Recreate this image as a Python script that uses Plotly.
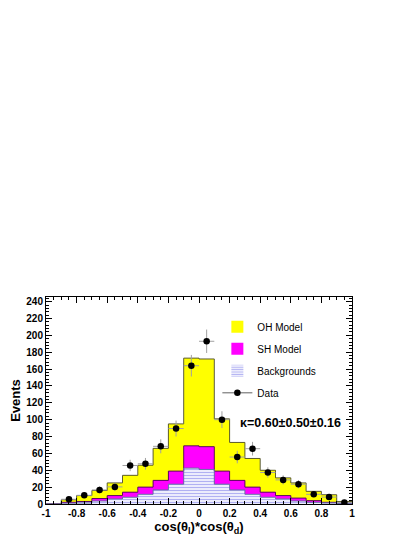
import numpy as np
import plotly.graph_objects as go

# ---- data (20 bins of width 0.1 from -1 to 1) ----
bin_edges = [round(-1 + 0.1 * i, 2) for i in range(21)]
bin_centers = [round(-0.95 + 0.1 * i, 2) for i in range(20)]

# visible (stacked) heights of each histogram
oh_model = [0, 5, 10, 16, 25, 34, 46, 66, 95, 173, 172, 101, 73, 54, 40, 31, 25, 15, 11, 3]
sh_model = [0, 2, 3, 6.5, 10, 14, 20, 28, 39, 69, 68, 39, 28, 20, 14, 10, 7, 4, 2, 1]
backgrounds = [0, 1, 1.2, 3.6, 6, 8, 11.5, 16.7, 23.5, 42.6, 41, 23.5, 16.7, 11.5, 8, 6, 3.6, 2, 1.2, 0.5]
data_counts = [None, 5.6, 10.3, 16.7, 20.3, 45.7, 47.7, 68.4, 89.5, 164, 193, 100, 55.7, 65.6, 37.4, 28.6, 23.5, 11.5, 8.2, 1.8]

x_tickvals = [-1, -0.8, -0.6, -0.4, -0.2, 0, 0.2, 0.4, 0.6, 0.8, 1]
x_ticktext = ["-1", "-0.8", "-0.6", "-0.4", "-0.2", "0", "0.2", "0.4", "0.6", "0.8", "1"]
y_tickvals = [0, 20, 40, 60, 80, 100, 120, 140, 160, 180, 200, 220, 240]

kappa_text = "κ=0.60±0.50±0.16"

FONT = "Liberation Sans"

fig = go.Figure()

def step_y(vals):
    return list(vals) + [vals[-1]]

# filled histograms (bars for fill + legend), step outlines as lines
fig.add_trace(go.Bar(x=bin_centers, y=oh_model, width=0.1, name="OH Model",
                     marker=dict(color="#ffff00", line=dict(width=0)),
                     legendgroup="a"))
fig.add_trace(go.Scatter(x=bin_edges, y=step_y(oh_model), mode="lines",
                         line=dict(shape="hv", color="#5c5c30", width=1),
                         showlegend=False, hoverinfo="skip"))
fig.add_trace(go.Bar(x=bin_centers, y=sh_model, width=0.1, name="SH Model",
                     marker=dict(color="#ff00ff", line=dict(width=0)),
                     legendgroup="b"))
fig.add_trace(go.Scatter(x=bin_edges, y=step_y(sh_model), mode="lines",
                         line=dict(shape="hv", color="#5a0a5a", width=1),
                         showlegend=False, hoverinfo="skip"))
fig.add_trace(go.Bar(x=bin_centers, y=backgrounds, width=0.1, name="Backgrounds",
                     marker=dict(color="white", line=dict(width=0),
                                 pattern=dict(shape="-", fgcolor="#6464e6", bgcolor="white",
                                              size=3, solidity=0.5)),
                     legendgroup="c"))
fig.add_trace(go.Scatter(x=bin_edges, y=step_y(backgrounds), mode="lines",
                         line=dict(shape="hv", color="#6a6aa8", width=1),
                         showlegend=False, hoverinfo="skip"))

# data points with errors
yerr = [None if v is None else float(np.sqrt(v)) for v in data_counts]
fig.add_trace(go.Scatter(x=bin_centers, y=data_counts, mode="markers",
                         marker=dict(color="black", size=6.5),
                         error_y=dict(type="data", array=yerr, color="#a0a0a0", thickness=1, width=0),
                         error_x=dict(type="constant", value=0.05, color="#a0a0a0", thickness=1, width=0),
                         showlegend=False, hoverinfo="skip"))
# legend proxy for Data
fig.add_trace(go.Scatter(x=[None], y=[None], mode="lines+markers", name="Data",
                         marker=dict(color="black", size=6.5),
                         line=dict(color="#606060", width=1), legendgroup="d"))

fig.add_annotation(x=0.255, y=96, xref="x", yref="y", text=kappa_text, showarrow=False,
                   xanchor="left", yanchor="middle",
                   font=dict(family=FONT, size=12.5, color="black", weight="bold"))

axis_common = dict(showline=True, linecolor="black", linewidth=1, mirror="allticks",
                   ticks="inside", tickcolor="black", showgrid=False, zeroline=False,
                   automargin=False,
                   tickfont=dict(family=FONT, size=10, color="black", weight="bold"))

fig.update_layout(
    width=406, height=528,
    margin=dict(l=38, r=62, t=289, b=32),
    paper_bgcolor="white", plot_bgcolor="white",
    barmode="overlay", bargap=0,
    showlegend=True,
    legend=dict(x=0.56, y=0.926, xanchor="left", yanchor="top",
                font=dict(family=FONT, size=10, color="black"),
                bgcolor="rgba(0,0,0,0)", traceorder="grouped", tracegroupgap=3),
    xaxis=dict(range=[-1, 1], tickvals=x_tickvals, ticktext=x_ticktext, ticklen=6,
               minor=dict(ticks="inside", dtick=0.05, tick0=-1, ticklen=3, tickcolor="black"),
               title=dict(text="cos(θ<sub>l</sub>)*cos(θ<sub>d</sub>)", standoff=4,
                          font=dict(family=FONT, size=13, color="black", weight="bold")),
               **axis_common),
    yaxis=dict(range=[0, 245.5], tickvals=y_tickvals, ticklen=6,
               minor=dict(ticks="inside", dtick=4, tick0=0, ticklen=3, tickcolor="black"),
               title=dict(text="Events", standoff=4,
                          font=dict(family=FONT, size=13, color="black", weight="bold")),
               **axis_common),
)

fig.write_html("out.html")
